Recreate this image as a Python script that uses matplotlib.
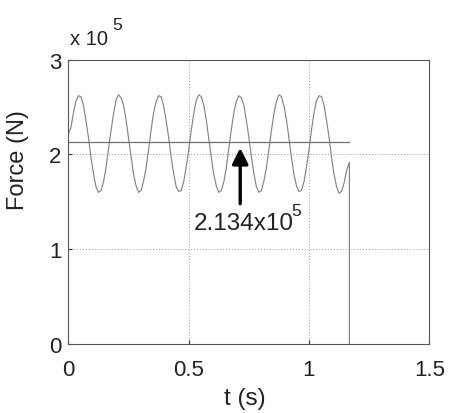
import numpy as np
import matplotlib
matplotlib.use('Agg')
import matplotlib.pyplot as plt

plt.rcParams['font.family'] = ['Liberation Sans', 'DejaVu Sans']

force_e5 = [
    2.22, 2.28, 2.44, 2.56, 2.62, 2.61, 2.52, 2.36, 2.18, 1.97, 1.80, 1.66, 1.60, 1.62, 1.71, 1.86,
    2.06, 2.25, 2.43, 2.57, 2.63, 2.60, 2.52, 2.37, 2.17, 1.98, 1.79, 1.67, 1.60, 1.62, 1.72, 1.86,
    2.05, 2.26, 2.44, 2.56, 2.62, 2.61, 2.51, 2.36, 2.18, 1.97, 1.80, 1.66, 1.61, 1.62, 1.71, 1.87,
    2.05, 2.25, 2.43, 2.57, 2.63, 2.61, 2.52, 2.37, 2.17, 1.97, 1.79, 1.67, 1.60, 1.62, 1.71, 1.86,
    2.06, 2.26, 2.44, 2.56, 2.62, 2.60, 2.52, 2.36, 2.18, 1.98, 1.80, 1.66, 1.60, 1.62, 1.72, 1.86,
    2.05, 2.25, 2.43, 2.56, 2.63, 2.61, 2.51, 2.37, 2.17, 1.97, 1.79, 1.67, 1.61, 1.62, 1.71, 1.87,
    2.05, 2.26, 2.44, 2.57, 2.62, 2.61, 2.52, 2.36, 2.18, 1.97, 1.79, 1.66, 1.59, 1.61, 1.70, 1.83,
    1.92,
]
dt = 1 / 96
t_end = 1.168          # signal switches off here
mean_force = 2.134     # x 1e5 N
arrow_t = 0.714
x_ticks = [0, 0.5, 1, 1.5]
x_tick_labels = ['0', '0.5', '1', '1.5']
y_ticks = [0, 1, 2, 3]

t = np.arange(len(force_e5)) * dt
t[-1] = t_end
t_plot = np.append(t, t_end)
f_plot = np.append(force_e5, 0.0)

fig = plt.figure(figsize=(4.5, 4.14), dpi=100)
ax = fig.add_axes([0.152, 0.1667, 0.802, 0.6866])

ax.plot(t_plot, f_plot, color='#858585', lw=0.85)
ax.plot([0, t_end], [mean_force, mean_force], color='#707070', lw=0.9)

ax.set_xlim(0, 1.5)
ax.set_ylim(0, 3)
ax.set_xticks(x_ticks)
ax.set_xticklabels(x_tick_labels)
ax.set_yticks(y_ticks)
ax.grid(True, linestyle=(0, (1, 2)), color='#9a9a9a', lw=0.7)
ax.tick_params(direction='in', length=3, labelsize=16, colors='#333333',
               labelcolor='#222222')
ax.tick_params(axis='x', pad=11)
ax.tick_params(axis='y', pad=5)
for s in ax.spines.values():
    s.set_color('#555555')
    s.set_linewidth(0.8)

ax.set_xlabel('t (s)', fontsize=17.5, color='#222222')
ax.xaxis.set_label_coords(0.49, -0.152)
ax.xaxis.label.set_va('top')
ax.set_ylabel('Force (N)', fontsize=17, color='#222222')
ax.yaxis.set_label_coords(-0.108, 0.65)

# exponent label, MATLAB style
ax.text(0.004, 1.055, 'x 10', transform=ax.transAxes, fontsize=14.5,
        color='#222222', va='baseline', ha='left')
ax.text(0.121, 1.108, '5', transform=ax.transAxes, fontsize=12.5,
        color='#222222', va='baseline', ha='left')

ax.annotate('', xy=(arrow_t, 2.07), xytext=(arrow_t, 1.48),
            arrowprops=dict(arrowstyle='-|>', color='black', lw=2.4,
                            mutation_scale=24, shrinkA=0, shrinkB=0))
ax.text(0.521, 1.21, '%.3fx10' % mean_force, fontsize=17.5,
        color='#222222', va='baseline', ha='left')
ax.text(0.928, 1.36, '5', fontsize=12.5, color='#222222',
        va='baseline', ha='left')

fig.savefig('out.png', dpi=100, facecolor='white')
